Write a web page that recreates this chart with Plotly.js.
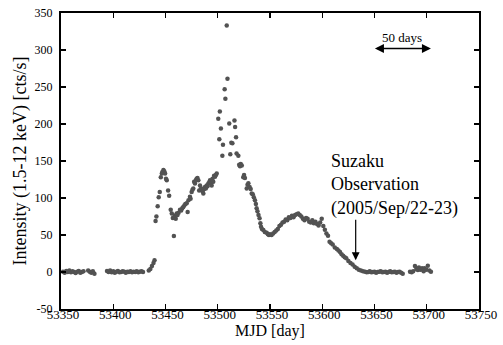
<!DOCTYPE html>
<html>
<head>
<meta charset="utf-8">
<script src="https://cdn.plot.ly/plotly-3.0.1.min.js"></script>
<style>html,body{margin:0;padding:0;background:#fff;}#chart{width:503px;height:345px;}</style>
</head>
<body>
<div id="chart"></div>
<script>
// Light curve data (MJD, intensity in cts/s)
const mjd = [
  53352,53353.5,53355,53356.5,53358,53359.5,53361,53362.5,53364,53365.5,53367,53368.5,53370,53371.5,
  53376,53377.5,53379,53380.5,53382,
  53394,53395.5,53397,53398.5,53400,53401.5,53403,53404.5,53406,53407.5,53409,53410.5,53412,53413.5,
  53415,53416.5,53418,53419.5,53421,53422.5,53424,53425.5,53427,53428.5,
  53434,53435.5,53437,53438.5,53439.5,
  53440.5,53441.3,53442.5,53443.5,53444.5,53445.5,53446.5,53447,53448,53448.8,53449.6,53450.5,53451.2,
  53452.5,53453.5,53455,53456,53458,
  53457,53458.8,53459.8,53460.7,53461.5,53462.5,53463.9,53465,53466,53467,53468,53469,53470.3,53471.2,
  53472,53473.4,53474,53475,53475.8,53476.6,53477.4,53478.2,53479,53479.8,53480.6,53481.4,53482.2,53483,
  53483.8,53484.6,53485.4,53486.2,53487,53487.8,53488.6,53489.4,53490.2,53491,53491.8,53492.6,53493.4,
  53494.2,53495,53495.7,53496.5,53497.4,53498.2,53499,
  53500.5,53501.5,53502,53503,53504.4,53505,53506.6,53507.3,53508.6,53509.3,53511,53512,53513,53514,
  53516,53516.6,53517.5,53518,53519.7,
  53520.5,53521.3,53522,53523,53524.4,53525.2,53526,53527.7,53528.5,53529.3,53530.5,53531.5,53532.5,
  53533.5,53534.5,53535.6,53536.5,53537.2,53538,53539,53540,53540.8,53541.4,53542.3,53543.6,53545,
  53546.8,53548,53549,53550,53551.5,53553,53554.5,53556,53557.5,53559,53560.5,53562,53563.5,53565,
  53566.5,53568,53569.5,53571,53572.5,53574,53575.5,53577,53578.5,53580,53581.5,53583,53584.5,53586,
  53587.5,53589,53590.5,53592,53593.5,53595,53596.5,53598,53599.5,53601,53602.5,53604,53605.5,
  53607,53608.5,53610,53612,53614,53615.5,53617,53618.5,53620,53621.5,53623,53625,53627,53629,53631,
  53633,53635,53637,53639,
  53641,53642.5,53644,53645.5,53647,53648.5,53650,53651.5,53653,53654.5,53656,53657.5,53659,53660.5,
  53662,53663.5,53665,53666.5,53668,53669.5,53671,53672.5,53674,53675.5,53677,
  53684,53685.5,53687,53688.7,53690,53691.5,53692.5,53694,53695.5,53697,53698,53699.5,53701,53702.5,53704
];
const rate = [
  0.5,-1,1.5,0,2,-0.5,1,0,-1.5,0.5,1.5,-1,0,1,
  2,0.5,-1,1,-2.5,
  1.5,0,2,-0.5,1,-1,0.5,1.5,-0.5,0,1,0.5,-1,0.5,
  0,1,-0.5,0.5,0,1,-0.5,0.5,1,0,
  2,4,8,12,16,
  69,75,89,101,108,128,133,135,138,136,133,126,124,
  110,103,84,79,48.6,
  73,76,72,79,77,80,84,83,86,88,90,92,93,81,
  97,101.6,99,108,111,113,122,119.7,124,126,127,124,110,117,
  112,113,109,106,112,115,113,117,116,119.7,121,124,120,
  117,126,122,130,128.6,131,133,
  207,179.5,217,194,157,172,247,234,333,261,200.6,159,174.5,174,
  204.7,196,182,160,157,
  145,143,146,144,128,131,127,113,118,120,115,112,106,
  105,101,97,92,86,82,77,72.5,66,61,58,56.7,54,
  53,51,50,51,50,52,54,56,58,62,64,67,68,71,
  70,74,73,76,74,77,78,79,77,75,72,70,73,72,
  68,67,70,66,68,65,63,67,72,62,57,52,49,
  41,39,37,33,31,29,27,24,22,20,18.5,15,12,10,7,
  5,3,2,1,
  0.5,-0.5,0,1,-0.5,0,0.5,-1,0,0.5,1,-0.5,0,0.5,
  -1,0,1,-0.5,0,0.5,-1,0,0.5,-1,-2.5,
  0.5,-0.5,1,8,4,2.7,6,3,5,1,5,3,8.6,2,0.5
];
const xTicks = [53350,53400,53450,53500,53550,53600,53650,53700,53750];
const yTicks = [-50,0,50,100,150,200,250,300,350];

const serif = 'Times New Roman, Liberation Serif, Times, serif';

const trace = {
  x: mjd, y: rate, type: 'scatter', mode: 'markers',
  marker: {color: '#525252', size: 4.5, symbol: 'circle'},
  hoverinfo: 'none', showlegend: false
};

const axisCommon = {
  showgrid: false, zeroline: false, showline: true, linecolor: '#000', linewidth: 2,
  mirror: 'ticks', ticks: 'inside', ticklen: 5, tickwidth: 1.2, tickcolor: '#000'
};

const layout = {
  width: 503, height: 345,
  margin: {l: 61, r: 24, t: 13, b: 36, pad: 0},
  paper_bgcolor: '#fff', plot_bgcolor: '#fff',
  font: {family: serif, color: '#000', size: 13},
  xaxis: Object.assign({}, axisCommon, {
    range: [53350, 53750], tickmode: 'array', tickvals: xTicks, ticktext: xTicks.map(String),
    tickfont: {family: serif, size: 13, color: '#000'}, ticklabelstandoff: -8, ticklabelshift: 2,
    title: {text: 'MJD [day]', font: {family: serif, size: 16, color: '#000'}, standoff: 2}
  }),
  yaxis: Object.assign({}, axisCommon, {
    range: [-50, 350], tickmode: 'array', tickvals: yTicks, ticktext: yTicks.map(String),
    tickfont: {family: serif, size: 12, color: '#000'}, ticklabelstandoff: 4,
    title: {text: 'Intensity (1.5-12 keV) [cts/s]', font: {family: serif, size: 18, color: '#000'}, standoff: 3}
  }),
  annotations: [
    {x: 53676, y: 317, xref: 'x', yref: 'y', text: '50 days', showarrow: false,
     font: {family: serif, size: 13, color: '#000'}},
    {x: 53704, y: 302, ax: 53649, ay: 302, xref: 'x', yref: 'y', axref: 'x', ayref: 'y',
     text: '', showarrow: true, arrowside: 'end+start', arrowhead: 2, arrowsize: 1.2,
     arrowwidth: 1.5, arrowcolor: '#000'},
    {x: 53606, y: 117, xref: 'x', yref: 'y', xanchor: 'left', yanchor: 'middle', align: 'left',
     text: 'Suzaku<br>Observation<br>(2005/Sep/22-23)', showarrow: false,
     font: {family: serif, size: 18, color: '#000'}},
    {x: 53632, y: 16, xref: 'x', yref: 'y', ax: 0, ay: -42, text: '', showarrow: true,
     arrowhead: 2, arrowsize: 1.3, arrowwidth: 1.2, arrowcolor: '#000'}
  ]
};

Plotly.newPlot('chart', [trace], layout, {staticPlot: true, displayModeBar: false});
</script>
</body>
</html>
